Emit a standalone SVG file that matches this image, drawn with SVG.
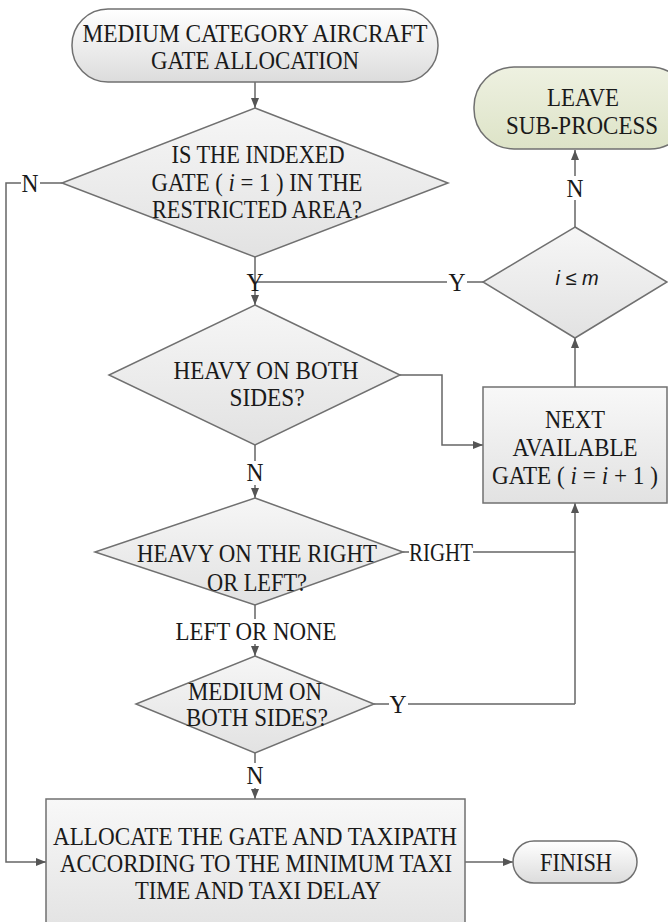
<svg xmlns="http://www.w3.org/2000/svg" width="668" height="922" viewBox="0 0 668 922">
<style>
text{font-family:"Liberation Serif","Times New Roman",serif;font-size:25px;fill:#1a1a1a;text-anchor:middle}
.sh{stroke:#707070;stroke-width:1.5}
.ln{fill:none;stroke:#666;stroke-width:1.5}
.it{font-style:italic}
.sans{font-family:"Liberation Sans",Arial,sans-serif;font-size:20px;font-style:italic}
</style>
<defs>
<linearGradient id="gTerm" x1="0" y1="0" x2="0" y2="1"><stop offset="0" stop-color="#ffffff"/><stop offset="1" stop-color="#dcdcdc"/></linearGradient>
<linearGradient id="gDia" x1="0" y1="0" x2="0" y2="1"><stop offset="0" stop-color="#f6f6f6"/><stop offset="1" stop-color="#e2e2e2"/></linearGradient>
<linearGradient id="gBox" x1="0" y1="0" x2="0" y2="1"><stop offset="0" stop-color="#f8f8f8"/><stop offset="1" stop-color="#e2e2e2"/></linearGradient>
<linearGradient id="gGreen" x1="0" y1="0" x2="0" y2="1"><stop offset="0" stop-color="#eef1e1"/><stop offset="1" stop-color="#dde3c7"/></linearGradient>
<marker id="arr" markerUnits="userSpaceOnUse" markerWidth="10" markerHeight="8" refX="10" refY="4" orient="auto"><path d="M0,0 L10,4 L0,8 z" fill="#555"/></marker>
</defs>

<g id="connectors">
<path class="ln" d="M255,82 V108" marker-end="url(#arr)"/>
<path class="ln" d="M255,257 V305" marker-end="url(#arr)"/>
<path class="ln" d="M255,282 H447 M467,282 H483"/>
<text x="457" y="291" textLength="17" lengthAdjust="spacingAndGlyphs">Y</text>
<text x="255" y="291" textLength="17" lengthAdjust="spacingAndGlyphs">Y</text>
<path class="ln" d="M62,183 H40 M21,183 H6 V862 H46" marker-end="url(#arr)"/>
<text x="30" y="192" textLength="17" lengthAdjust="spacingAndGlyphs">N</text>
<path class="ln" d="M575,227 V200 M575,176 V150" marker-end="url(#arr)"/>
<text x="575" y="197" textLength="17" lengthAdjust="spacingAndGlyphs">N</text>
<path class="ln" d="M575,387 V338" marker-end="url(#arr)"/>
<path class="ln" d="M400,375 H442 V445 H483" marker-end="url(#arr)"/>
<path class="ln" d="M255,445 V461 M255,485 V498" marker-end="url(#arr)"/>
<text x="255" y="481" textLength="17" lengthAdjust="spacingAndGlyphs">N</text>
<path class="ln" d="M403,552 H409 M473,552 H575"/>
<text x="441" y="561" textLength="64" lengthAdjust="spacingAndGlyphs">RIGHT</text>
<path class="ln" d="M575,704 V503" marker-end="url(#arr)"/>
<path class="ln" d="M255,605 V619 M255,644 V656" marker-end="url(#arr)"/>
<text x="256" y="640" textLength="161" lengthAdjust="spacingAndGlyphs">LEFT OR NONE</text>
<path class="ln" d="M374,704 H389 M408,704 H575"/>
<text x="398" y="713" textLength="17" lengthAdjust="spacingAndGlyphs">Y</text>
<path class="ln" d="M255,753 V763 M255,788 V799" marker-end="url(#arr)"/>
<text x="255" y="784" textLength="17" lengthAdjust="spacingAndGlyphs">N</text>
<path class="ln" d="M465,862 H513" marker-end="url(#arr)"/>
</g>

<g id="start">
<rect class="sh" x="72" y="9" width="366" height="73" rx="36" fill="url(#gTerm)"/>
<text x="255" y="42" textLength="345" lengthAdjust="spacingAndGlyphs">MEDIUM CATEGORY AIRCRAFT</text>
<text x="255" y="69" textLength="208" lengthAdjust="spacingAndGlyphs">GATE ALLOCATION</text>
</g>

<g id="restricted">
<polygon class="sh" points="255,108 448,183 255,257 62,183" fill="url(#gDia)"/>
<text x="258" y="163" textLength="173" lengthAdjust="spacingAndGlyphs">IS THE INDEXED</text>
<text x="257" y="191" textLength="211" lengthAdjust="spacingAndGlyphs">GATE ( <tspan class="it">i</tspan> = 1 ) IN THE</text>
<text x="257" y="218" textLength="210" lengthAdjust="spacingAndGlyphs">RESTRICTED AREA?</text>
</g>

<g id="leave">
<rect class="sh" x="474" y="67" width="216" height="82" rx="40" fill="url(#gGreen)"/>
<text x="583" y="106" textLength="72" lengthAdjust="spacingAndGlyphs">LEAVE</text>
<text x="582" y="134" textLength="152" lengthAdjust="spacingAndGlyphs">SUB-PROCESS</text>
</g>

<g id="ilem">
<polygon class="sh" points="575,227 667,282 575,338 483,282" fill="url(#gDia)"/>
<text class="sans" x="577" y="285">i ≤ m</text>
</g>

<g id="heavyboth">
<polygon class="sh" points="255,305 400,375 255,445 109,375" fill="url(#gDia)"/>
<text x="266" y="379" textLength="185" lengthAdjust="spacingAndGlyphs">HEAVY ON BOTH</text>
<text x="267" y="406" textLength="75" lengthAdjust="spacingAndGlyphs">SIDES?</text>
</g>

<g id="next">
<rect class="sh" x="483" y="387" width="184" height="116" fill="url(#gBox)"/>
<text x="575" y="428" textLength="60" lengthAdjust="spacingAndGlyphs">NEXT</text>
<text x="575" y="456" textLength="125" lengthAdjust="spacingAndGlyphs">AVAILABLE</text>
<text x="575" y="484" textLength="166" lengthAdjust="spacingAndGlyphs">GATE ( <tspan class="it">i</tspan> = <tspan class="it">i</tspan> + 1 )</text>
</g>

<g id="heavyrl">
<polygon class="sh" points="255,498 403,552 255,605 95,552" fill="url(#gDia)"/>
<text x="257" y="562" textLength="240" lengthAdjust="spacingAndGlyphs">HEAVY ON THE RIGHT</text>
<text x="257" y="591" textLength="100" lengthAdjust="spacingAndGlyphs">OR LEFT?</text>
</g>

<g id="mediumboth">
<polygon class="sh" points="255,656 374,704 255,753 136,704" fill="url(#gDia)"/>
<text x="255" y="700" textLength="134" lengthAdjust="spacingAndGlyphs">MEDIUM ON</text>
<text x="257" y="726" textLength="142" lengthAdjust="spacingAndGlyphs">BOTH SIDES?</text>
</g>

<g id="allocate">
<rect class="sh" x="46" y="799" width="419" height="135" fill="url(#gBox)"/>
<text x="255" y="845" textLength="404" lengthAdjust="spacingAndGlyphs">ALLOCATE THE GATE AND TAXIPATH</text>
<text x="256" y="872" textLength="392" lengthAdjust="spacingAndGlyphs">ACCORDING TO THE MINIMUM TAXI</text>
<text x="258" y="899" textLength="246" lengthAdjust="spacingAndGlyphs">TIME AND TAXI DELAY</text>
</g>

<g id="finish">
<rect class="sh" x="513" y="841" width="124" height="42" rx="21" fill="url(#gTerm)"/>
<text x="576" y="871" textLength="72" lengthAdjust="spacingAndGlyphs">FINISH</text>
</g>
</svg>
